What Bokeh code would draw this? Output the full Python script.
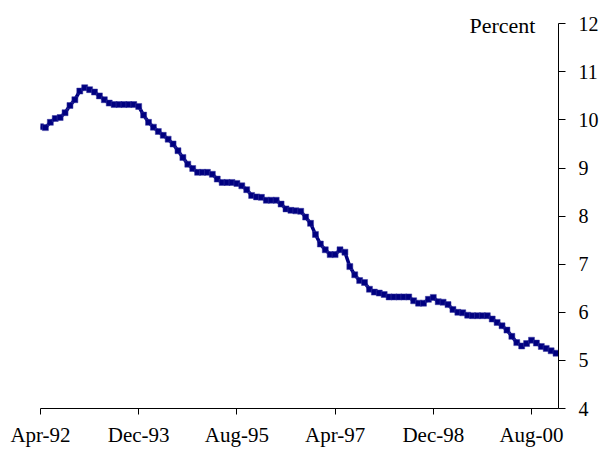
from bokeh.plotting import figure
from bokeh.models import Range1d, LinearAxis, FixedTicker, Label
from bokeh.embed import file_html
from bokeh.resources import INLINE

# Monthly series, Apr-92 (index 0) to Jan-01 (index 105)
rate = [9.86, 9.84, 9.95, 10.03, 10.05, 10.15, 10.30, 10.42, 10.60, 10.67,
        10.63, 10.58, 10.50, 10.42, 10.35, 10.32, 10.32, 10.32, 10.32, 10.32,
        10.28, 10.10, 9.95, 9.85, 9.76, 9.68, 9.60, 9.50, 9.36, 9.22,
        9.08, 8.99, 8.91, 8.91, 8.91, 8.87, 8.77, 8.70, 8.70, 8.70,
        8.68, 8.63, 8.55, 8.43, 8.40, 8.39, 8.33, 8.33, 8.33, 8.25,
        8.15, 8.12, 8.11, 8.10, 7.98, 7.85, 7.62, 7.42, 7.30, 7.20,
        7.20, 7.30, 7.25, 6.95, 6.78, 6.66, 6.62, 6.48, 6.42, 6.40,
        6.37, 6.32, 6.32, 6.32, 6.32, 6.32, 6.24, 6.19, 6.19, 6.27,
        6.31, 6.22, 6.21, 6.16, 6.06, 6.00, 5.99, 5.94, 5.93, 5.93,
        5.93, 5.93, 5.86, 5.79, 5.72, 5.63, 5.50, 5.37, 5.30, 5.35,
        5.42, 5.36, 5.29, 5.25, 5.20, 5.15]
month_index = list(range(len(rate)))

tick_positions = [0, 20, 40, 60, 80, 100]
tick_labels = ["Apr-92", "Dec-93", "Aug-95", "Apr-97", "Dec-98", "Aug-00"]
y_ticks = [4, 5, 6, 7, 8, 9, 10, 11, 12]

FONT = "Liberation Serif"
NAVY = "#000080"

p = figure(width=601, height=455, output_backend="svg", toolbar_location=None,
           x_range=Range1d(0, 105.5), y_range=Range1d(4, 12.4),
           y_axis_location=None,
           min_border_left=40, min_border_right=41, min_border_top=4,
           min_border_bottom=47)
p.outline_line_color = None
p.xgrid.grid_line_color = None
p.ygrid.grid_line_color = None
p.background_fill_color = "white"
p.border_fill_color = "white"

p.line(month_index, rate, line_color=NAVY, line_width=3.5)
p.scatter(month_index, rate, marker="square", size=6, fill_color=NAVY,
          line_color="#3a3aa0", line_width=0.5)

xa = p.xaxis[0]
xa.ticker = FixedTicker(ticks=tick_positions)
xa.major_label_overrides = {t: l for t, l in zip(tick_positions, tick_labels)}
xa.major_label_text_font = FONT
xa.major_label_text_font_size = "21px"
xa.major_label_text_color = "black"
xa.major_tick_out = 6
xa.major_tick_in = 0
xa.minor_tick_out = 0
xa.minor_tick_in = 0
xa.axis_line_color = "black"
xa.major_tick_line_color = "black"
xa.major_label_standoff = 8

ya = LinearAxis(ticker=FixedTicker(ticks=y_ticks), bounds=(4, 12))
ya.major_label_text_font = FONT
ya.major_label_text_font_size = "20px"
ya.major_label_text_color = "black"
ya.major_tick_out = 7
ya.major_tick_in = 0
ya.minor_tick_out = 0
ya.minor_tick_in = 0
ya.axis_line_color = "black"
ya.major_tick_line_color = "black"
ya.major_label_standoff = 13
p.add_layout(ya, "right")

p.add_layout(Label(x=100.8, y=11.96, text="Percent", text_font=FONT,
                   text_font_size="22px", text_align="right",
                   text_baseline="alphabetic", text_color="black"))

open("out.html", "w").write(file_html(p, INLINE))
